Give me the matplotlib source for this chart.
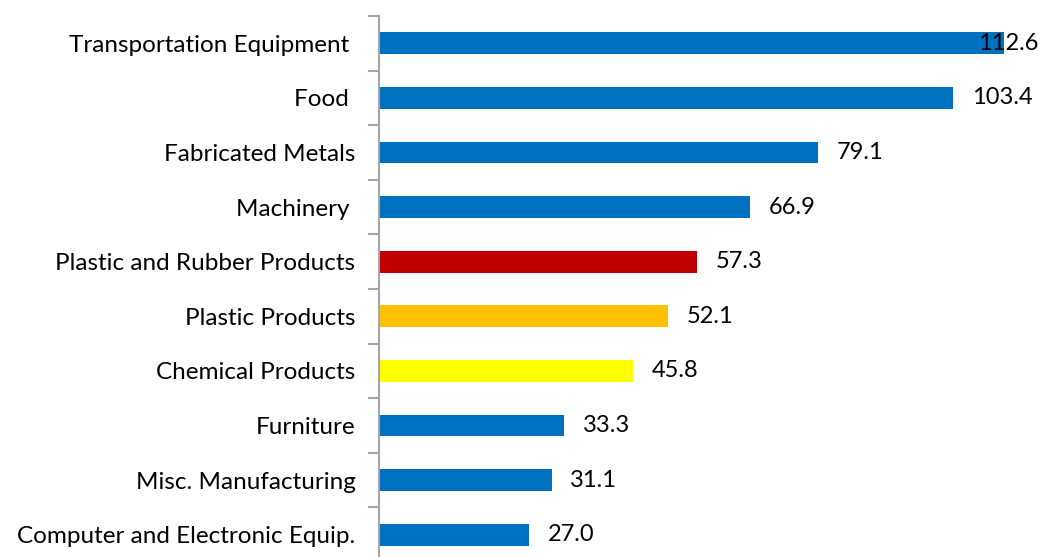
import numpy as np
from matplotlib import pyplot as plt

categories = ['Transportation Equipment ', 'Food ', 'Fabricated Metals', 'Machinery ',
              'Plastic and Rubber Products', 'Plastic Products', 'Chemical Products',
              'Furniture', 'Misc. Manufacturing', 'Computer and Electronic Equip.']
values = [112.6, 103.4, 79.1, 66.9, 57.3, 52.1, 45.8, 33.3, 31.1, 27.0]
colors = ['#0070C0', '#0070C0', '#0070C0', '#0070C0', '#C00000',
          '#FFC000', '#FFFF00', '#0070C0', '#0070C0', '#0070C0']

plt.rcParams['font.family'] = ['Lato', 'DejaVu Sans']

fig = plt.figure(figsize=[10.42, 5.57], dpi=100)
ax = fig.add_axes([379/1042, -5/557, 1 - 379/1042, 546/557])

y = np.arange(len(categories))
ax.barh(y, values, height=0.4, color=colors)

xmax = 119.5
ax.set_xlim(0, xmax)
ax.set_ylim(len(categories) - 0.5, -0.5)

for i, v in enumerate(values):
    xt = min(v + 3.4, xmax - 11.6)
    ax.text(xt, i, f'{v:.1f}', va='center', ha='left', fontsize=17, color='black')

ax.set_yticks(np.arange(len(categories) + 1) - 0.5)
ax.set_yticklabels([])
ax.set_yticks(y, minor=True)
ax.set_yticklabels(categories, minor=True, fontsize=17.5)
ax.tick_params(axis='y', which='major', length=8, width=1.5, color='#A6A6A6', direction='out')
ax.tick_params(axis='y', which='minor', length=0, pad=17)
ax.set_xticks([])

for s in ['top', 'right', 'bottom']:
    ax.spines[s].set_visible(False)
ax.spines['left'].set_color('#A6A6A6')
ax.spines['left'].set_linewidth(1.5)

plt.savefig('out.png', dpi=100)
